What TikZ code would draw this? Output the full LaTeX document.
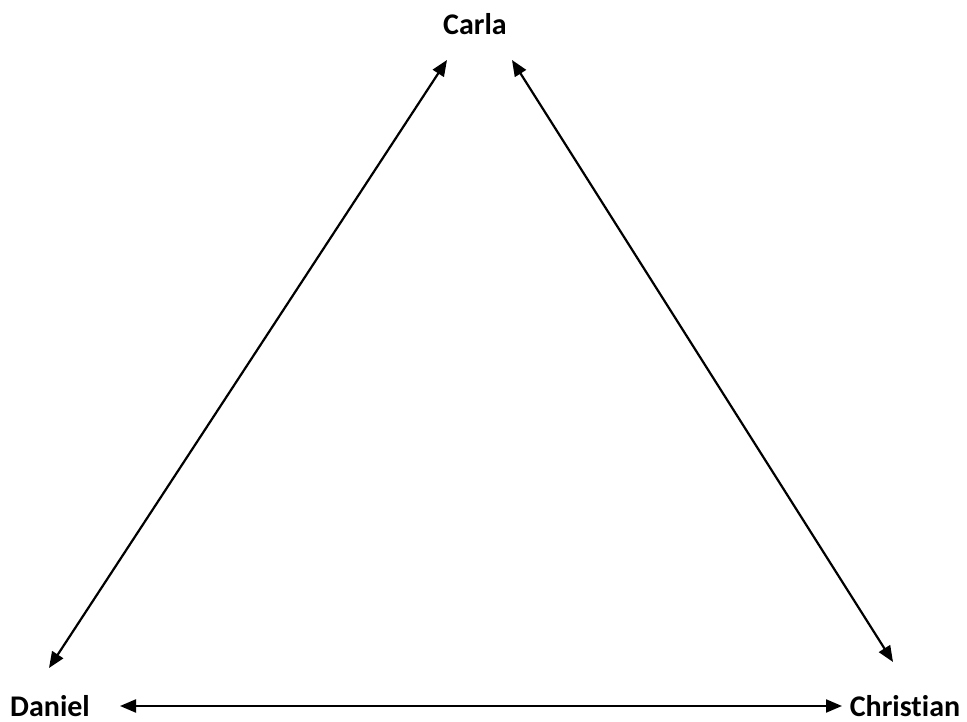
\documentclass[tikz,border=0pt]{standalone}
\usepackage{fontspec}
\setmainfont{Carlito}[Ligatures={NoCommon}]
\usetikzlibrary{arrows.meta}
\begin{document}
\begin{tikzpicture}[x=1pt,y=-1pt,
  lbl/.style={font=\fontsize{30}{36}\selectfont\bfseries, inner sep=0pt},
  link/.style={line width=2.2pt, {Triangle[length=16pt,width=13pt]}-{Triangle[length=16pt,width=13pt]}}]
\useasboundingbox (0,0) rectangle (967,722);
\node[lbl] (carla) at (475,24) {Carla};
\node[lbl] (daniel) at (50,706) {Daniel};
\node[lbl] (christian) at (905,706) {Christian};
\coordinate (dcD) at (49,668);
\coordinate (dcC) at (447,60);
\coordinate (ccC) at (512,60);
\coordinate (ccX) at (893,662);
\coordinate (dxD) at (120,706);
\coordinate (dxX) at (842,706);
\draw[link] (dcD) -- (dcC);
\draw[link] (ccC) -- (ccX);
\draw[link] (dxD) -- (dxX);
\end{tikzpicture}
\end{document}
